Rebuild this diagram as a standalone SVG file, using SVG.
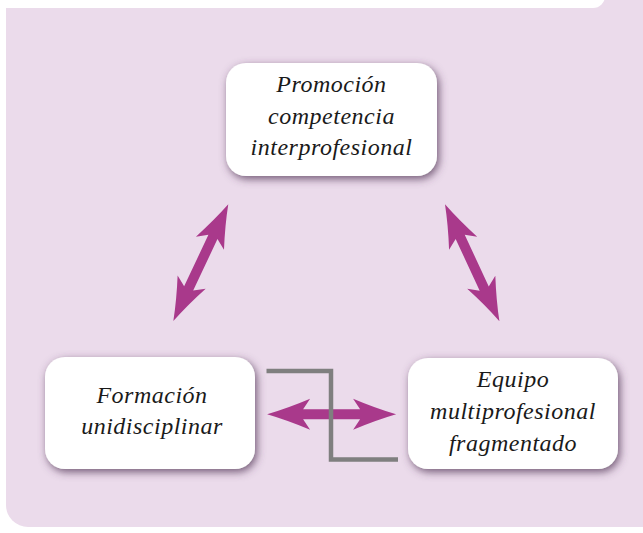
<svg xmlns="http://www.w3.org/2000/svg" width="643" height="533" viewBox="0 0 643 533">
  <style>
    .box { fill: #ffffff; filter: url(#shadow); }
    .lbl { font-family: "Liberation Serif", "DejaVu Serif", serif; font-style: italic; font-size: 24px; letter-spacing: 0.5px; fill: #1a1a1a; text-anchor: middle; }
    .arrow { fill: #a9398b; }
    .link { fill: none; stroke: #7f7f7f; stroke-width: 4.5; }
  </style>
  <defs>
    <filter id="shadow" x="-20%" y="-30%" width="140%" height="160%">
      <feDropShadow dx="2" dy="3" stdDeviation="4.5" flood-color="#553858" flood-opacity="0.8"/>
    </filter>
    <path id="dblarrow" d="M -64.5,0 Q -44,-6 -21.5,-15.5 L -28.5,-5 L 28.5,-5 L 21.5,-15.5 Q 44,-6 64.5,0 Q 44,6 21.5,15.5 L 28.5,5 L -28.5,5 L -21.5,15.5 Q -44,6 -64.5,0 Z"/>
  </defs>
  <rect x="0" y="0" width="643" height="533" fill="#ffffff"/>
  <rect x="6" y="-30" width="670" height="557" rx="22" fill="#ebdbeb"/>
  <rect x="-20" y="-40" width="625" height="48" rx="12" fill="#ffffff"/>

  <g id="connectors">
    <use href="#dblarrow" class="arrow" transform="translate(200.8,262.7) rotate(-64.8)"/>
    <use href="#dblarrow" class="arrow" transform="translate(472.2,262.7) rotate(65.05)"/>
    <use href="#dblarrow" class="arrow" transform="translate(331.6,414.3)"/>
    <path class="link" d="M 266.5,371 H 331 V 459.5 H 398"/>
  </g>

  <g id="node-promocion">
    <rect class="box" x="226" y="63" width="211" height="113" rx="20"/>
    <text class="lbl" x="331.5" y="92">Promoción</text>
    <text class="lbl" x="331.5" y="124">competencia</text>
    <text class="lbl" x="331.5" y="155">interprofesional</text>
  </g>

  <g id="node-formacion">
    <rect class="box" x="45" y="357" width="210" height="112" rx="20"/>
    <text class="lbl" x="152" y="403">Formación</text>
    <text class="lbl" x="152" y="434">unidisciplinar</text>
  </g>

  <g id="node-equipo">
    <rect class="box" x="408" y="358" width="210" height="111" rx="20"/>
    <text class="lbl" x="513" y="387">Equipo</text>
    <text class="lbl" x="513" y="419">multiprofesional</text>
    <text class="lbl" x="513" y="451">fragmentado</text>
  </g>
</svg>
